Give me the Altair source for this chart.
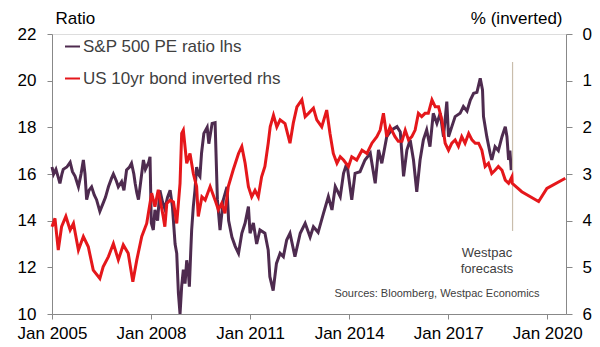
import altair as alt
import pandas as pd

# ---- data ----
pe_t = [2005.00, 2005.05, 2005.12, 2005.20, 2005.24, 2005.30, 2005.34, 2005.45, 2005.55, 2005.62,
        2005.70, 2005.80, 2005.88, 2005.95, 2006.00, 2006.05, 2006.12, 2006.20, 2006.28, 2006.35,
        2006.45, 2006.55, 2006.62, 2006.71, 2006.80, 2006.86, 2006.95, 2007.01, 2007.11, 2007.18,
        2007.26, 2007.35, 2007.41, 2007.48, 2007.52, 2007.57, 2007.62, 2007.70, 2007.77, 2007.83,
        2007.93, 2007.97, 2008.01, 2008.07, 2008.12, 2008.20, 2008.27, 2008.35, 2008.42, 2008.50,
        2008.58, 2008.65, 2008.68, 2008.73, 2008.78, 2008.83, 2008.88, 2008.93, 2008.98, 2009.03,
        2009.08, 2009.13, 2009.16, 2009.20, 2009.23, 2009.28, 2009.33, 2009.38, 2009.43, 2009.48,
        2009.53, 2009.60, 2009.70, 2009.75, 2009.85, 2009.94, 2010.01, 2010.09, 2010.19, 2010.30,
        2010.35, 2010.45, 2010.55, 2010.65, 2010.75, 2010.85, 2010.95, 2011.00, 2011.10, 2011.20,
        2011.30, 2011.45, 2011.55, 2011.60, 2011.70, 2011.80, 2011.91, 2012.01, 2012.11, 2012.21,
        2012.36, 2012.52, 2012.67, 2012.82, 2012.92, 2013.06, 2013.22, 2013.37, 2013.48, 2013.58,
        2013.73, 2013.83, 2013.93, 2014.08, 2014.18, 2014.33, 2014.48, 2014.64, 2014.79, 2014.89,
        2014.99, 2015.14, 2015.29, 2015.45, 2015.55, 2015.65, 2015.75, 2015.85, 2015.95, 2016.05,
        2016.15, 2016.25, 2016.35, 2016.45, 2016.55, 2016.66, 2016.76, 2016.86, 2016.96, 2017.01,
        2017.11, 2017.21, 2017.36, 2017.46, 2017.57, 2017.67, 2017.77, 2017.87, 2017.97, 2018.04,
        2018.07, 2018.17, 2018.27, 2018.32, 2018.42, 2018.52, 2018.63, 2018.73, 2018.78, 2018.83,
        2018.87, 2018.91]
pe_v = [16.3, 16.0, 16.2, 15.8, 15.6, 16.0, 16.2, 16.3, 16.5, 16.1,
        15.9, 15.45, 16.0, 16.6, 16.0, 14.9, 15.3, 15.45, 15.1, 14.9,
        14.4, 14.75, 15.0, 15.45, 15.8, 16.0, 15.7, 15.45, 15.67, 15.3,
        16.17, 16.3, 16.46, 16.0, 15.6, 15.2, 14.9, 15.8, 16.6, 16.2,
        16.5, 16.74, 13.9, 13.6, 14.46, 14.0, 15.3, 14.8, 14.5, 15.0,
        15.3, 14.6, 14.0, 13.0, 12.6, 10.9, 10.0, 11.2, 11.9, 11.3,
        12.3, 11.8, 11.17, 12.6, 13.6, 14.6, 15.3, 16.3, 16.0, 15.9,
        16.9, 17.74, 18.0, 17.3, 18.17, 18.2, 14.9, 13.6, 14.9, 15.45,
        14.0, 13.3, 12.9, 12.6, 13.46, 13.9, 14.6, 13.46, 13.9, 13.0,
        13.6, 13.46, 12.74, 11.6, 11.0, 12.17, 12.6, 12.46, 13.17, 13.46,
        12.46, 13.46, 13.89, 13.3, 13.74, 13.5, 14.3, 15.03, 14.46, 15.46,
        15.03, 16.03, 16.46, 14.89, 16.03, 16.1, 16.6, 16.89, 15.6, 17.03,
        16.46, 17.6, 17.89, 18.03, 17.8, 15.9, 17.03, 17.46, 16.6, 15.24,
        16.6, 17.46, 17.89, 17.17, 18.6, 18.17, 18.6, 17.6, 19.1, 17.6,
        18.03, 18.46, 18.6, 18.89, 18.7, 19.17, 19.46, 19.5, 20.1, 19.6,
        18.46, 17.6, 16.89, 16.6, 17.17, 17.0, 17.6, 18.03, 17.6, 16.6,
        17.0, 16.17]

ust_t = [2005.00, 2005.09, 2005.19, 2005.29, 2005.42, 2005.55, 2005.65, 2005.80, 2005.95, 2006.10,
         2006.25, 2006.45, 2006.55, 2006.71, 2006.86, 2007.01, 2007.16, 2007.31, 2007.45, 2007.57,
         2007.72, 2007.87, 2007.92, 2008.02, 2008.12, 2008.22, 2008.37, 2008.42, 2008.48, 2008.58,
         2008.68, 2008.78, 2008.88, 2008.93, 2008.98, 2009.08, 2009.18, 2009.28, 2009.38, 2009.43,
         2009.54, 2009.64, 2009.79, 2009.94, 2010.04, 2010.14, 2010.24, 2010.34, 2010.49, 2010.65,
         2010.75, 2010.85, 2010.95, 2011.05, 2011.15, 2011.25, 2011.35, 2011.45, 2011.55, 2011.61,
         2011.71, 2011.81, 2011.91, 2012.06, 2012.21, 2012.31, 2012.42, 2012.57, 2012.67, 2012.77,
         2012.92, 2013.02, 2013.17, 2013.32, 2013.42, 2013.52, 2013.63, 2013.73, 2013.83, 2013.98,
         2014.08, 2014.23, 2014.39, 2014.54, 2014.69, 2014.84, 2014.94, 2015.04, 2015.14, 2015.24,
         2015.39, 2015.49, 2015.60, 2015.70, 2015.80, 2015.90, 2016.00, 2016.10, 2016.20, 2016.30,
         2016.40, 2016.51, 2016.61, 2016.71, 2016.81, 2016.91, 2017.01, 2017.11, 2017.21, 2017.31,
         2017.41, 2017.51, 2017.62, 2017.72, 2017.82, 2017.92, 2018.02, 2018.12, 2018.22, 2018.32,
         2018.42, 2018.52, 2018.63, 2018.73, 2018.83, 2018.93]
ust_v = [4.13, 3.95, 4.63, 4.13, 3.91, 4.2, 4.06, 4.63, 4.34, 4.56,
         5.06, 5.24, 4.99, 4.77, 4.49, 4.84, 4.52, 4.7, 5.31, 4.84,
         4.34, 4.06, 3.84, 3.41, 3.7, 3.34, 3.91, 4.13, 3.63, 3.56,
         3.6, 4.06, 3.2, 2.13, 2.06, 2.77, 2.56, 2.99, 3.27, 3.91,
         3.49, 3.56, 3.27, 3.56, 3.77, 3.63, 3.84, 3.27, 2.91, 2.56,
         2.41, 2.77, 3.27, 3.49, 3.35, 3.49, 3.06, 2.84, 2.34, 1.99,
         1.74, 1.99, 1.84, 1.92, 2.34, 1.91, 1.56, 1.41, 1.77, 1.7,
         1.59, 1.84, 1.99, 1.63, 2.13, 2.56, 2.77, 2.63, 2.7, 2.84,
         2.63, 2.7, 2.49, 2.56, 2.34, 2.2, 2.06, 1.7, 2.2, 1.99,
         2.2, 2.3, 2.3, 2.06, 2.27, 2.2, 2.06, 1.7, 1.77, 1.7,
         1.7, 1.41, 1.56, 1.56, 1.84, 2.34, 2.49, 2.34, 2.27, 2.41,
         2.2, 2.34, 2.13, 2.27, 2.34, 2.34, 2.49, 2.84, 2.77, 2.99,
         2.92, 2.84, 2.92, 3.13, 3.2, 3.06]

# Westpac forecasts for the 10yr yield
fc_t = [2018.94, 2019.23, 2019.74, 2019.99, 2020.55]
fc_v = [3.2, 3.38, 3.59, 3.31, 3.09]

forecast_start = 2018.95
x_start, x_end = 2005.0, 2020.57
tick_years = [2005, 2008, 2011, 2014, 2017, 2020]

S1 = "S&P 500 PE ratio lhs"
S2 = "US 10yr bond inverted rhs"
PURPLE = "#4E2B4F"
RED = "#E5171B"
TXT = "#404040"
AX = "#606060"
FONT = "Liberation Sans"


def to_date(t):
    y = int(t)
    return pd.Timestamp(year=y, month=1, day=1) + pd.Timedelta(days=(t - y) * 365.25)


pe_df = pd.DataFrame({"date": [to_date(t) for t in pe_t], "value": pe_v, "series": S1})
ust_df = pd.DataFrame({"date": [to_date(t) for t in ust_t + fc_t], "value": ust_v + fc_v, "series": S2})
rule_df = pd.DataFrame({"date": [to_date(forecast_start)], "lo": [13.56], "hi": [20.8]})

x_dom = [to_date(x_start).isoformat(), to_date(x_end).isoformat()]
x_vals = [pd.Timestamp(year=y, month=1, day=1).isoformat() for y in tick_years]

x_enc = alt.X("date:T", scale=alt.Scale(domain=x_dom),
              axis=alt.Axis(values=x_vals, format="%b %Y", title=None, grid=False,
                            tickSize=5, labelPadding=6, labelFontSize=17,
                            labelFlush=False, labelOverlap=False))

color = alt.Color("series:N",
                  scale=alt.Scale(domain=[S1, S2], range=[PURPLE, RED]),
                  legend=alt.Legend(title=None, orient="none", legendX=12, legendY=4,
                                    symbolType="stroke", symbolStrokeWidth=2,
                                    symbolSize=225, labelFontSize=17, labelColor=TXT,
                                    labelFont=FONT, rowPadding=14, labelOffset=2,
                                    labelLimit=400))

pe_line = alt.Chart(pe_df).mark_line(strokeWidth=3).encode(
    x=x_enc,
    y=alt.Y("value:Q", scale=alt.Scale(domain=[10, 22]),
            axis=alt.Axis(values=[10, 12, 14, 16, 18, 20, 22], title="Ratio", grid=False,
                          tickSize=5, labelPadding=11, labelFontSize=17,
                          titleAngle=0, titleAlign="left", titleBaseline="middle",
                          titleX=3, titleY=-16, titleFontSize=17, titleFontWeight="normal")),
    color=color,
)

ust_line = alt.Chart(ust_df).mark_line(strokeWidth=3).encode(
    x=x_enc,
    y=alt.Y("value:Q", scale=alt.Scale(domain=[0, 6], reverse=True),
            axis=alt.Axis(orient="right", values=[0, 1, 2, 3, 4, 5, 6], title="% (inverted)",
                          grid=False, tickSize=6, labelPadding=10, labelFontSize=17,
                          titleAngle=0, titleAlign="right", titleBaseline="middle",
                          titleX=-4, titleY=-16, titleFontSize=17, titleFontWeight="normal")),
    color=color,
)

rule = alt.Chart(rule_df).mark_rule(color="#C9BDAC", strokeWidth=1.2).encode(
    x=alt.X("date:T"),
    y=alt.Y("lo:Q", scale=alt.Scale(domain=[10, 22]), axis=None),
    y2="hi:Q",
)

note = alt.Chart(rule_df).mark_text(fontSize=13, font=FONT, color=TXT, align="center",
                                    baseline="middle", lineBreak="\n", lineHeight=16).encode(
    x=alt.value(435), y=alt.value(219), text=alt.value("Westpac\nforecasts"))

source = alt.Chart(rule_df).mark_text(fontSize=11, font=FONT, color=TXT, align="center",
                                      baseline="middle").encode(
    x=alt.value(385), y=alt.value(260), text=alt.value("Sources: Bloomberg, Westpac Economics"))

chart = alt.layer(pe_line, rule, ust_line, note, source).resolve_scale(
    y="independent"
).properties(
    width=514, height=280, autosize="none",
    padding={"left": 52, "top": 34, "right": 34, "bottom": 33},
).configure_view(
    stroke=AX, strokeWidth=1
).configure_axis(
    domainColor=AX, tickColor=AX, labelColor=TXT, titleColor=TXT,
    labelFont=FONT, titleFont=FONT
).configure(background="white")

chart.save("out.html", embed_options={"renderer": "svg", "actions": False})
